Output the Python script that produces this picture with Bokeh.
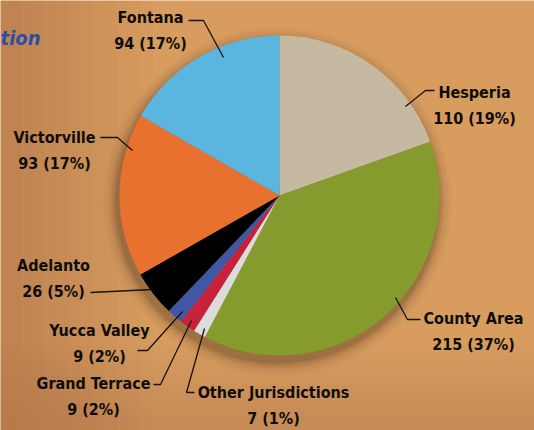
import numpy as np
from bokeh.plotting import figure
from bokeh.models import Range1d, ColumnDataSource
from bokeh.core.properties import value
from bokeh.embed import file_html
from bokeh.resources import INLINE

# ---- data (clockwise from 12 o'clock) ----
names = ["Hesperia", "County Area", "Other Jurisdictions", "Grand Terrace",
         "Yucca Valley", "Adelanto", "Victorville", "Fontana"]
counts = [110, 215, 7, 9, 9, 26, 93, 94]
pcts = [19, 37, 1, 2, 2, 5, 17, 17]
colors = ["#c5b9a1", "#869b2d", "#dcdcdc", "#c8213a",
          "#4256a6", "#000000", "#e8712f", "#5ab5df"]

# ---- layout (reference pixel coordinates, y measured downward) ----
W, H = 534, 430
CX, CY, R = 279, 195, 160
label_pos = {  # centre x, y of name line
    "Hesperia": (474, 92), "County Area": (473, 318),
    "Other Jurisdictions": (273, 392), "Grand Terrace": (93, 383),
    "Yucca Valley": (99, 330), "Adelanto": (53, 265),
    "Victorville": (54, 137), "Fontana": (150, 17),
}
leaders = {
    "Hesperia": [(405, 106), (425, 90), (434, 90)],
    "County Area": [(395, 297), (407, 319), (420, 319)],
    "Other Jurisdictions": [(204, 328), (186, 392), (194, 392)],
    "Grand Terrace": [(191, 320), (160, 384), (153, 384)],
    "Yucca Valley": [(182, 311), (147, 350), (137, 350)],
    "Adelanto": [(152, 289), (90, 292)],
    "Victorville": [(132, 150), (117, 137), (100, 137)],
    "Fontana": [(223, 57), (203, 20), (188, 20)],
}
LINE_GAP = 26
FONT = value("'DejaVu Sans Condensed', 'Roboto', sans-serif")

def fy(py):
    return H - py

p = figure(width=W, height=H, output_backend="svg", toolbar_location=None,
           x_range=Range1d(0, W), y_range=Range1d(0, H),
           x_axis_type=None, y_axis_type=None,
           min_border=0, min_border_left=0, min_border_right=0,
           min_border_top=0, min_border_bottom=0)
p.outline_line_color = None
p.grid.visible = False
p.background_fill_color = "#d79c5e"
p.border_fill_color = "#d79c5e"

# soft background shading (slightly darker towards left and bottom)
for i in range(12):
    w = 20 + i * 12
    p.rect(x=[w / 2], y=[H / 2], width=w, height=H, color="#8a5a30",
           alpha=0.016, line_color=None)
for i in range(8):
    h = 15 + i * 10
    p.rect(x=[W / 2], y=[h / 2], width=W, height=h, color="#8a5a30",
           alpha=0.015, line_color=None)

# soft drop shadow (below / left of the pie)
for k, a in [(14, 0.03), (11, 0.04), (8, 0.05), (6, 0.07), (4, 0.09), (2, 0.12)]:
    p.circle(x=[CX - 2], y=[fy(CY + 6)], radius=R + k, radius_units="data",
             color="#3a2410", alpha=a, line_color=None)

# wedges
vals = np.array(counts, dtype=float)
fr = vals / vals.sum()
ends_cum = np.cumsum(fr)
starts_cum = ends_cum - fr
start_ang = np.pi / 2 - 2 * np.pi * starts_cum
end_ang = np.pi / 2 - 2 * np.pi * ends_cum
src = ColumnDataSource(dict(start=start_ang, end=end_ang, color=colors))
p.wedge(x=CX, y=fy(CY), radius=R, radius_units="data",
        start_angle="start", end_angle="end", direction="clock",
        fill_color="color", line_color=None, source=src)

# leader lines
xs = [[pt[0] for pt in leaders[n]] for n in names]
ys = [[fy(pt[1]) for pt in leaders[n]] for n in names]
p.multi_line(xs=xs, ys=ys, line_color="#1a1208", line_width=1.3)

# labels
lx = [label_pos[n][0] for n in names]
ly1 = [fy(label_pos[n][1]) for n in names]
ly2 = [fy(label_pos[n][1] + LINE_GAP) for n in names]
vals_txt = [f"{c} ({q}%)" for c, q in zip(counts, pcts)]
p.text(x=lx, y=ly1, text=names, text_font=FONT, text_font_style="bold",
       text_font_size="16px", text_align="center", text_baseline="middle",
       text_color="#0d0d0d")
p.text(x=lx, y=ly2, text=vals_txt, text_font=FONT, text_font_style="bold",
       text_font_size="16px", text_align="center", text_baseline="middle",
       text_color="#0d0d0d")

# fragment of the (cropped) title
p.text(x=[40], y=[fy(37)], text=["tion"], text_font=FONT,
       text_font_style="bold italic", text_font_size="20px",
       text_align="right", text_baseline="middle", text_color="#2b4fa3")

open("out.html", "w").write(file_html(p, INLINE))
